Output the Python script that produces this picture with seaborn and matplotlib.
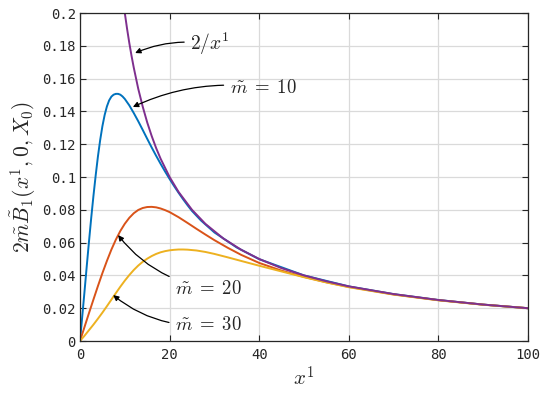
import matplotlib
matplotlib.use('Agg')
import matplotlib.pyplot as plt
import pandas as pd
import seaborn as sns

# values
x_m10 = [0, 0.5, 1, 1.5, 2, 2.5, 3, 3.5, 4, 4.5, 5, 5.5, 6, 6.5, 7, 7.5, 8,
         8.5, 9, 9.5, 10, 11, 12, 13, 14, 15, 16, 17, 18, 19, 20, 21, 22,
         23, 24, 25, 27, 30, 35, 40, 50, 60, 70, 80, 90, 100]
y_m10 = [0, 0.0150, 0.0300, 0.0455, 0.0605, 0.0750, 0.0885, 0.1010, 0.1125,
         0.1225, 0.1310, 0.1378, 0.1430, 0.1467, 0.1490, 0.1502, 0.1507,
         0.1507, 0.1502, 0.1491, 0.1476, 0.1437, 0.1390, 0.1340, 0.1287,
         0.1233, 0.1180, 0.1129, 0.1080, 0.1033, 0.0988, 0.0945, 0.0904,
         0.0865, 0.0828, 0.0793, 0.0735, 0.0662, 0.0570, 0.0499, 0.0400,
         0.0333, 0.0286, 0.0250, 0.0222, 0.0200]

x_m20 = [0, 1, 2, 3, 4, 5, 6, 7, 8, 9, 10, 11, 12, 13, 14, 15, 16, 17, 18,
         19, 20, 22, 24, 26, 28, 30, 33, 36, 40, 45, 50, 55, 60, 70, 80, 90,
         100]
y_m20 = [0, 0.0085, 0.0170, 0.0253, 0.0335, 0.0414, 0.0488, 0.0557, 0.0618,
         0.0671, 0.0715, 0.0751, 0.0779, 0.0799, 0.0811, 0.0817, 0.0818,
         0.0815, 0.0808, 0.0798, 0.0786, 0.0755, 0.0720, 0.0684, 0.0649,
         0.0615, 0.0568, 0.0525, 0.0476, 0.0429, 0.0391, 0.0358, 0.0330,
         0.0284, 0.0249, 0.0222, 0.0200]

x_m30 = [0, 1, 2, 3, 4, 5, 6, 7, 8, 9, 10, 11, 12, 13, 14, 15, 16, 17, 18,
         19, 20, 21, 22, 23, 24, 26, 28, 30, 33, 36, 40, 45, 50, 55, 60, 70,
         80, 90, 100]
y_m30 = [0, 0.0032, 0.0066, 0.0100, 0.0136, 0.0173, 0.0212, 0.0252, 0.0292,
         0.0331, 0.0368, 0.0402, 0.0433, 0.0460, 0.0483, 0.0502, 0.0518,
         0.0531, 0.0541, 0.0548, 0.0553, 0.0556, 0.0558, 0.0558, 0.0557,
         0.0552, 0.0543, 0.0531, 0.0510, 0.0488, 0.0459, 0.0424, 0.0389,
         0.0357, 0.0328, 0.0283, 0.0248, 0.0221, 0.0200]

x_inv = [9.6, 10, 10.5, 11, 11.5, 12, 13, 14, 15, 16, 17, 18, 20, 22, 25, 28,
         32, 36, 40, 45, 50, 55, 60, 70, 80, 90, 100]
y_inv = [0.2083, 0.2000, 0.1905, 0.1818, 0.1739, 0.1667, 0.1538, 0.1429,
         0.1333, 0.1250, 0.1176, 0.1111, 0.1000, 0.0909, 0.0800, 0.0714,
         0.0625, 0.0556, 0.0500, 0.0444, 0.0400, 0.0364, 0.0333, 0.0286,
         0.0250, 0.0222, 0.0200]

names = ['m10', 'm20', 'm30', 'inv']
colors = ['#0072BD', '#D95319', '#EDB120', '#7E2F8E']

frames = []
for name, xs, ys in zip(names, [x_m10, x_m20, x_m30, x_inv],
                        [y_m10, y_m20, y_m30, y_inv]):
    frames.append(pd.DataFrame({'x': xs, 'y': ys, 'curve': name}))
df = pd.concat(frames, ignore_index=True)

sns.set_style('ticks')
plt.rcParams['mathtext.fontset'] = 'cm'

fig = plt.figure(figsize=(5.45, 3.93), dpi=100)
ax = fig.add_axes([0.1468, 0.1323, 0.822, 0.8346])

sns.lineplot(data=df, x='x', y='y', hue='curve', palette=colors,
             hue_order=names, sort=False, legend=False, linewidth=1.4,
             estimator=None, ax=ax)

ax.set_xlim(0, 100)
ax.set_ylim(0, 0.2)
ax.set_xticks([0, 20, 40, 60, 80, 100])
ax.set_yticks([0, 0.02, 0.04, 0.06, 0.08, 0.1, 0.12, 0.14, 0.16, 0.18, 0.2])
ax.set_xticklabels(['0', '20', '40', '60', '80', '100'])
ax.set_yticklabels(['0', '0.02', '0.04', '0.06', '0.08', '0.1', '0.12',
                    '0.14', '0.16', '0.18', '0.2'])
for lab in ax.get_xticklabels() + ax.get_yticklabels():
    lab.set_family('DejaVu Sans Mono')
    lab.set_fontsize(10)

ax.grid(True, color='#dadada', linewidth=0.9)
ax.tick_params(direction='in', length=4, width=0.8, top=True, right=True,
               colors='#262626', labelcolor='#262626')
ax.tick_params(axis='y', pad=3)
ax.tick_params(axis='x', pad=5)
for sp in ax.spines.values():
    sp.set_visible(True)
    sp.set_linewidth(0.9)
    sp.set_color('#262626')

ax.set_xlabel('$x^1$', fontsize=15, labelpad=3)
ax.set_ylabel(r'$2\tilde{m}\tilde{B}_1(x^1,0,X_0)$', fontsize=15.5,
              labelpad=3)

arrow = dict(arrowstyle='-|>', color='black', lw=0.9, mutation_scale=8,
             shrinkA=2, shrinkB=0)
ax.annotate('$2/x^1$', xy=(12.3, 0.1756), xytext=(24.6, 0.181),
            fontsize=14, va='center', ha='left',
            arrowprops=dict(arrow, connectionstyle='arc3,rad=0.15'))
ax.annotate(r'$\tilde{m}\;=\;10$', xy=(11.8, 0.1427),
            xytext=(33.4, 0.1545), fontsize=13.5, va='center', ha='left',
            arrowprops=dict(arrow, connectionstyle='arc3,rad=0.15'))
ax.annotate(r'$\tilde{m}\;=\;20$', xy=(8.5, 0.0646),
            xytext=(21.2, 0.0323), fontsize=13.5, va='center', ha='left',
            arrowprops=dict(arrow, connectionstyle='arc3,rad=-0.2'))
ax.annotate(r'$\tilde{m}\;=\;30$', xy=(7.4, 0.028),
            xytext=(21.2, 0.0098), fontsize=13.5, va='center', ha='left',
            arrowprops=dict(arrow, connectionstyle='arc3,rad=-0.2'))

fig.savefig('out.png', dpi=100)
